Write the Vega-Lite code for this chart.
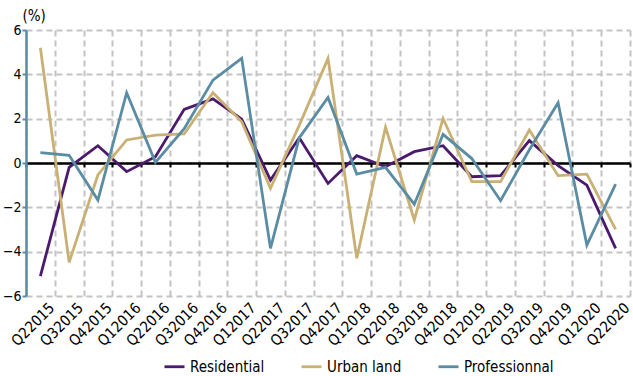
{
  "$schema": "https://vega.github.io/schema/vega-lite/v6.json",
  "width": 604,
  "height": 266,
  "autosize": {"type": "none"},
  "padding": {"left": 26, "top": 30, "right": 3, "bottom": 80},
  "config": {
    "font": "DejaVu Sans Condensed",
    "view": {"stroke": null}
  },
  "data": {
    "values": [
      {"q": "Q22015", "Residential": -5.1, "Urban land": 5.2, "Professionnal": 0.47},
      {"q": "Q32015", "Residential": -0.2, "Urban land": -4.48, "Professionnal": 0.35},
      {"q": "Q42015", "Residential": 0.78, "Urban land": -0.54, "Professionnal": -1.67},
      {"q": "Q12016", "Residential": -0.39, "Urban land": 1.04, "Professionnal": 3.17},
      {"q": "Q22016", "Residential": 0.28, "Urban land": 1.26, "Professionnal": 0.03},
      {"q": "Q32016", "Residential": 2.42, "Urban land": 1.31, "Professionnal": 1.55},
      {"q": "Q42016", "Residential": 2.89, "Urban land": 3.17, "Professionnal": 3.74},
      {"q": "Q12017", "Residential": 1.98, "Urban land": 1.86, "Professionnal": 4.72},
      {"q": "Q22017", "Residential": -0.77, "Urban land": -1.14, "Professionnal": -3.85},
      {"q": "Q32017", "Residential": 1.14, "Urban land": 1.7, "Professionnal": 1.13},
      {"q": "Q42017", "Residential": -0.92, "Urban land": 4.72, "Professionnal": 2.96},
      {"q": "Q12018", "Residential": 0.33, "Urban land": -4.3, "Professionnal": -0.5},
      {"q": "Q22018", "Residential": -0.17, "Urban land": 1.61, "Professionnal": -0.2},
      {"q": "Q32018", "Residential": 0.51, "Urban land": -2.57, "Professionnal": -1.86},
      {"q": "Q42018", "Residential": 0.78, "Urban land": 2.01, "Professionnal": 1.29},
      {"q": "Q12019", "Residential": -0.62, "Urban land": -0.84, "Professionnal": 0.2},
      {"q": "Q22019", "Residential": -0.57, "Urban land": -0.84, "Professionnal": -1.7},
      {"q": "Q32019", "Residential": 1.01, "Urban land": 1.49, "Professionnal": 0.6},
      {"q": "Q42019", "Residential": -0.12, "Urban land": -0.57, "Professionnal": 2.72},
      {"q": "Q12020", "Residential": -1.0, "Urban land": -0.5, "Professionnal": -3.7},
      {"q": "Q22020", "Residential": -3.85, "Urban land": -2.99, "Professionnal": -0.95}
    ]
  },
  "transform": [
    {"fold": ["Residential", "Urban land", "Professionnal"], "as": ["series", "v"]}
  ],
  "resolve": {"axis": {"x": "independent", "y": "independent"}},
  "layer": [
    {
      "mark": {"type": "line", "opacity": 0},
      "encoding": {
        "x": {
          "field": "q", "type": "nominal", "sort": null,
          "scale": {"type": "band", "paddingInner": 0, "paddingOuter": 0},
          "axis": {
            "orient": "bottom", "title": null, "labelAngle": -45, "labelAlign": "right",
            "labelBaseline": "middle", "labelFontSize": 15, "labelColor": "#000",
            "labelPadding": 9, "labelOffset": 11,
            "tickBand": "extent", "ticks": false, "domain": false,
            "grid": true, "gridColor": "#c4c4c4", "gridDash": [6, 4], "gridWidth": 2
          }
        },
        "y": {
          "field": "v", "type": "quantitative",
          "scale": {"domain": [-6, 6], "nice": false, "zero": false},
          "axis": {
            "orient": "left",
            "values": [-6, -4, -2, 0, 2, 4, 6], "title": "(%)", "titleAngle": 0,
            "titleAlign": "left", "titleBaseline": "alphabetic", "titleX": -4, "titleY": -10,
            "titleFontWeight": "normal", "titleFontSize": 15, "titleColor": "#000",
            "labelFontSize": 14, "labelColor": "#000", "labelPadding": 1,
            "domainColor": "#5a8ca4", "domainWidth": 2.5, "tickColor": "#5a8ca4", "tickSize": 4, "tickWidth": 2,
            "grid": true, "gridColor": "#c4c4c4", "gridDash": [6, 4], "gridWidth": 2
          }
        }
      }
    },
    {
      "mark": {"type": "line", "opacity": 0},
      "encoding": {
        "x": {
          "field": "q", "type": "nominal", "sort": null,
          "axis": {
            "orient": "bottom", "offset": -133, "title": null, "labels": false, "grid": false,
            "tickBand": "extent", "domain": true, "domainColor": "#000", "domainWidth": 2.5,
            "ticks": true, "tickColor": "#000", "tickSize": 4, "tickWidth": 2
          }
        },
        "y": {"field": "v", "type": "quantitative", "axis": null}
      }
    },
    {
      "mark": {"type": "line", "strokeWidth": 2.8},
      "encoding": {
        "x": {"field": "q", "type": "nominal", "sort": null, "axis": null},
        "y": {"field": "v", "type": "quantitative", "axis": null},
        "color": {
          "field": "series", "type": "nominal",
          "scale": {"domain": ["Residential", "Urban land", "Professionnal"], "range": ["#4b1a6c", "#c9b074", "#5a8ca4"]},
          "legend": {
            "title": null, "orient": "none", "direction": "horizontal", "legendX": 137, "legendY": 325,
            "symbolType": "stroke", "symbolSize": 400, "symbolStrokeWidth": 2.8,
            "labelFontSize": 15, "labelColor": "#000", "columnPadding": 30, "labelOffset": 4, "labelLimit": 300
          }
        }
      }
    }
  ]
}
